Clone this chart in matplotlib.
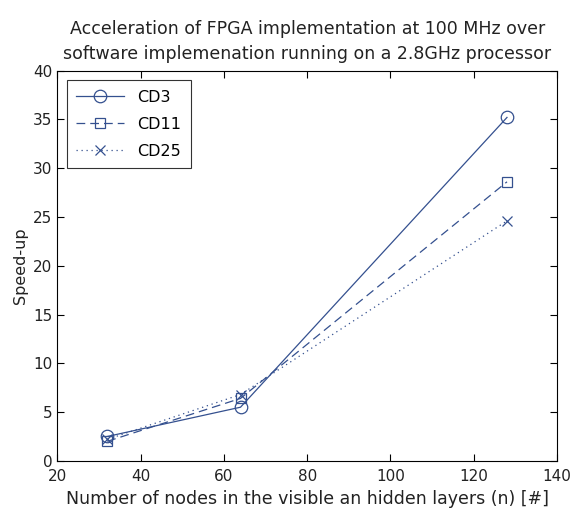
import matplotlib.pyplot as plt

plt.rcParams['font.family'] = ['DejaVu Sans']

nodes = [32, 64, 128]
cd3 = [2.5, 5.5, 35.2]
cd11 = [2.0, 6.4, 28.6]
cd25 = [2.2, 6.8, 24.6]

col = '#34508f'

fig = plt.figure(figsize=(5.73, 5.19), dpi=100)
ax = fig.add_axes([0.1, 0.112, 0.872, 0.752])

ax.plot(nodes, cd3, '-', marker='o', color=col, lw=0.9, ms=9, mfc='none', mew=0.9, label='CD3')
ax.plot(nodes, cd11, '--', dashes=(7, 4), marker='s', color=col, lw=0.9, ms=7.5, mfc='none', mew=0.9, label='CD11')
ax.plot(nodes, cd25, ':', dashes=(1, 3), marker='x', color=col, lw=0.9, ms=7, mew=0.9, label='CD25')

ax.set_xlim(20, 140)
ax.set_ylim(0, 40)
ax.set_xticks(range(20, 141, 20))
ax.set_yticks(range(0, 41, 5))
ax.tick_params(direction='in', top=True, right=True, labelsize=11, length=5, labelcolor='#222222')
ax.tick_params(axis='x', pad=6)
ax.set_xlabel('Number of nodes in the visible an hidden layers (n) [#]', fontsize=12.5, labelpad=4, color='#222222')
ax.set_ylabel('Speed-up', fontsize=11.5, color='#222222')
ax.set_title('Acceleration of FPGA implementation at 100 MHz over\nsoftware implemenation running on a 2.8GHz processor',
             fontsize=12.5, linespacing=1.5, pad=8, color='#222222')

leg = ax.legend(loc='upper left', fancybox=False, edgecolor='black', fontsize=11.5,
                handlelength=3.0, labelspacing=0.75, borderpad=0.6, borderaxespad=0.6)
leg.get_frame().set_linewidth(0.8)

fig.savefig('out.png', dpi=100)
